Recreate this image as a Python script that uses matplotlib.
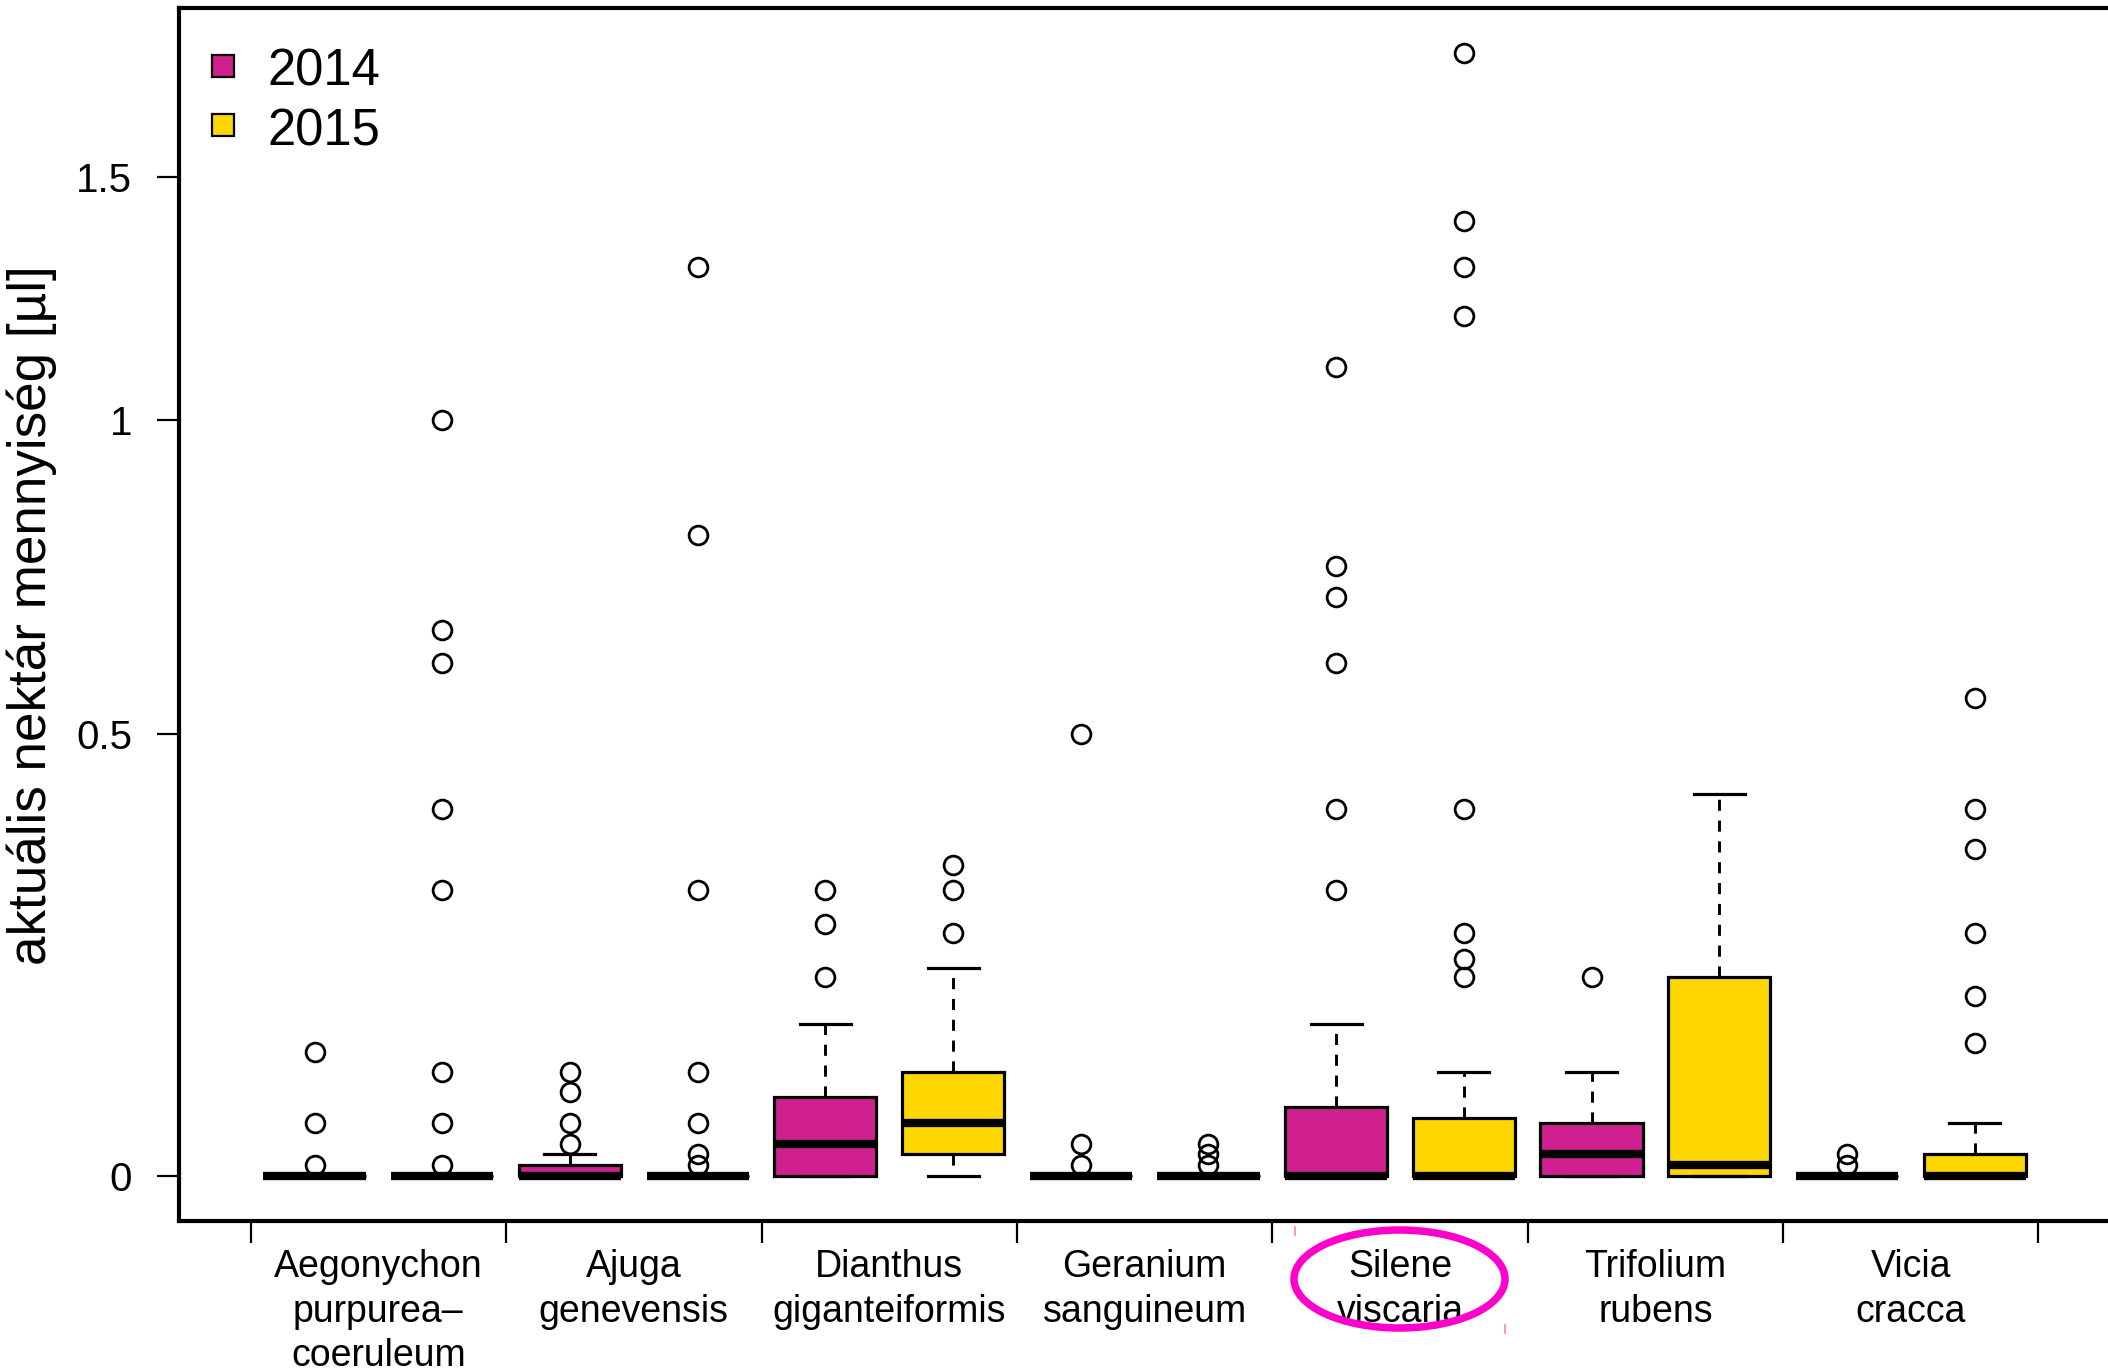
import numpy as np
import matplotlib
matplotlib.use("Agg")
import matplotlib.pyplot as plt
from matplotlib.patches import Ellipse, Rectangle
from matplotlib.lines import Line2D
from matplotlib.ticker import NullLocator

plt.rcParams['font.family'] = ['Liberation Sans', 'DejaVu Sans']
plt.rcParams['lines.scale_dashes'] = False

# ---- data -------------------------------------------------------------
categories = ["Aegonychon\npurpurea\u2013\ncoeruleum", "Ajuga\ngenevensis",
              "Dianthus\ngiganteiformis", "Geranium\nsanguineum",
              "Silene\nviscaria", "Trifolium\nrubens", "Vicia\ncracca"]
years = ["2014", "2015"]
year_colors = ["#d02090", "#ffd700"]

q1_2014 = [0, 0, 0, 0, 0, 0, 0]
med_2014 = [0, 0, 0.03, 0, 0, 0.02, 0]
q3_2014 = [0, 0.01, 0.075, 0, 0.065, 0.05, 0]
lo_2014 = [0, 0, 0, 0, 0, 0, 0]
hi_2014 = [0, 0.02, 0.15, 0, 0.15, 0.10, 0]
out_2014 = [[0.12, 0.05, 0.01],
            [0.10, 0.08, 0.05, 0.03],
            [0.30, 0.26, 0.20],
            [0.50, 0.03, 0.01],
            [1.10, 0.75, 0.70, 0.60, 0.40, 0.30],
            [0.20],
            [0.02, 0.01]]

q1_2015 = [0, 0, 0.02, 0, 0, 0, 0]
med_2015 = [0, 0, 0.05, 0, 0, 0.01, 0]
q3_2015 = [0, 0, 0.10, 0, 0.055, 0.20, 0.02]
lo_2015 = [0, 0, 0, 0, 0, 0, 0]
hi_2015 = [0, 0, 0.21, 0, 0.10, 0.42, 0.05]
out_2015 = [[1.00, 0.65, 0.60, 0.40, 0.30, 0.10, 0.05, 0.01],
            [1.30, 0.80, 0.30, 0.10, 0.05, 0.02, 0.01],
            [0.33, 0.30, 0.25],
            [0.03, 0.02, 0.01],
            [1.80, 1.40, 1.30, 1.20, 0.40, 0.25, 0.22, 0.20],
            [],
            [0.55, 0.40, 0.35, 0.25, 0.18, 0.13]]

y_ticks = [0, 0.5, 1, 1.5]
y_tick_labels = ["0", "0.5", "1", "1.5"]
y_label = "aktuális nektár mennyiség [µl]"


def box_stats(q1, med, q3, lo, hi, out):
    return [dict(q1=a, med=b, q3=c, whislo=d, whishi=e, fliers=np.array(f, dtype=float))
            for a, b, c, d, e, f in zip(q1, med, q3, lo, hi, out)]


W, H = 2108, 1372
fig = plt.figure(figsize=(W / 100, H / 100), dpi=100)
ax = fig.add_axes([179.2 / W, 1 - 1221 / H, 1930.8 / W, 1213 / H])
ax.set_yscale('function', functions=(np.log1p, np.expm1))

n = len(categories)
series = [box_stats(q1_2014, med_2014, q3_2014, lo_2014, hi_2014, out_2014),
          box_stats(q1_2015, med_2015, q3_2015, lo_2015, hi_2015, out_2015)]

for k, (stats, col) in enumerate(zip(series, year_colors)):
    pos = np.arange(n) * 2 + 1 + k
    ax.bxp(stats, positions=pos, widths=0.8, capwidths=0.4, patch_artist=True,
           manage_ticks=False,
           boxprops=dict(facecolor=col, edgecolor='black', linewidth=2.3),
           medianprops=dict(color='black', linewidth=6.0, solid_capstyle='butt'),
           whiskerprops=dict(color='black', linewidth=2.1, linestyle=(0, (8, 7))),
           capprops=dict(color='black', linewidth=2.3),
           flierprops=dict(marker='o', markerfacecolor='none', markeredgecolor='black',
                           markersize=13.5, markeredgewidth=2.0, linestyle='none'))

ax.set_xlim(-0.06, 2 * n + 1.06)
ax.set_ylim(np.expm1(-0.0412), np.expm1(1.0708))

ax.set_yticks(y_ticks)
ax.set_yticklabels(y_tick_labels)
ax.yaxis.set_minor_locator(NullLocator())
ax.tick_params(axis='y', length=16, width=1.6, pad=18, labelsize=29)

ax.set_xticks(np.arange(0.5, 2 * n + 1, 2))
ax.set_xticks(np.arange(1.5, 2 * n, 2), minor=True)
ax.set_xticklabels(categories, minor=True, linespacing=1.3)
ax.tick_params(axis='x', which='major', length=16, width=1.6, labelbottom=False)
ax.tick_params(axis='x', which='minor', length=0, pad=20.5, labelsize=27)

for side in ['left', 'top', 'bottom']:
    ax.spines[side].set_linewidth(3.0)
ax.spines['right'].set_visible(False)

# legend
for i, (yr, col) in enumerate(zip(years, year_colors)):
    yc = [66, 125][i]
    fig.add_artist(Rectangle(((223 - 11) / W, 1 - (yc + 11) / H), 22 / W, 22 / H,
                             facecolor=col, edgecolor='black', linewidth=1.6,
                             transform=fig.transFigure))
    fig.text(267 / W, 1 - ([67, 126][i]) / H, yr, fontsize=36.5,
             ha='left', va='center_baseline')

fig.text(32 / W, 1 - 615.5 / H, y_label, rotation=90, fontsize=38.2,
         ha='center', va='center')

# highlight around Silene viscaria
fig.add_artist(Ellipse((1399.5 / W, 1 - 1279 / H), 211 / W, 98 / H, fill=False,
                       edgecolor='#ff00cc', linewidth=5.4, transform=fig.transFigure))
fig.add_artist(Line2D([1295 / W, 1295 / W], [1 - 1227 / H, 1 - 1235 / H],
                      color='#ff77dd', linewidth=1.2, transform=fig.transFigure))
fig.add_artist(Line2D([1505 / W, 1505 / W], [1 - 1325 / H, 1 - 1333 / H],
                      color='#ff77dd', linewidth=1.2, transform=fig.transFigure))

fig.savefig("out.png", dpi=100)
